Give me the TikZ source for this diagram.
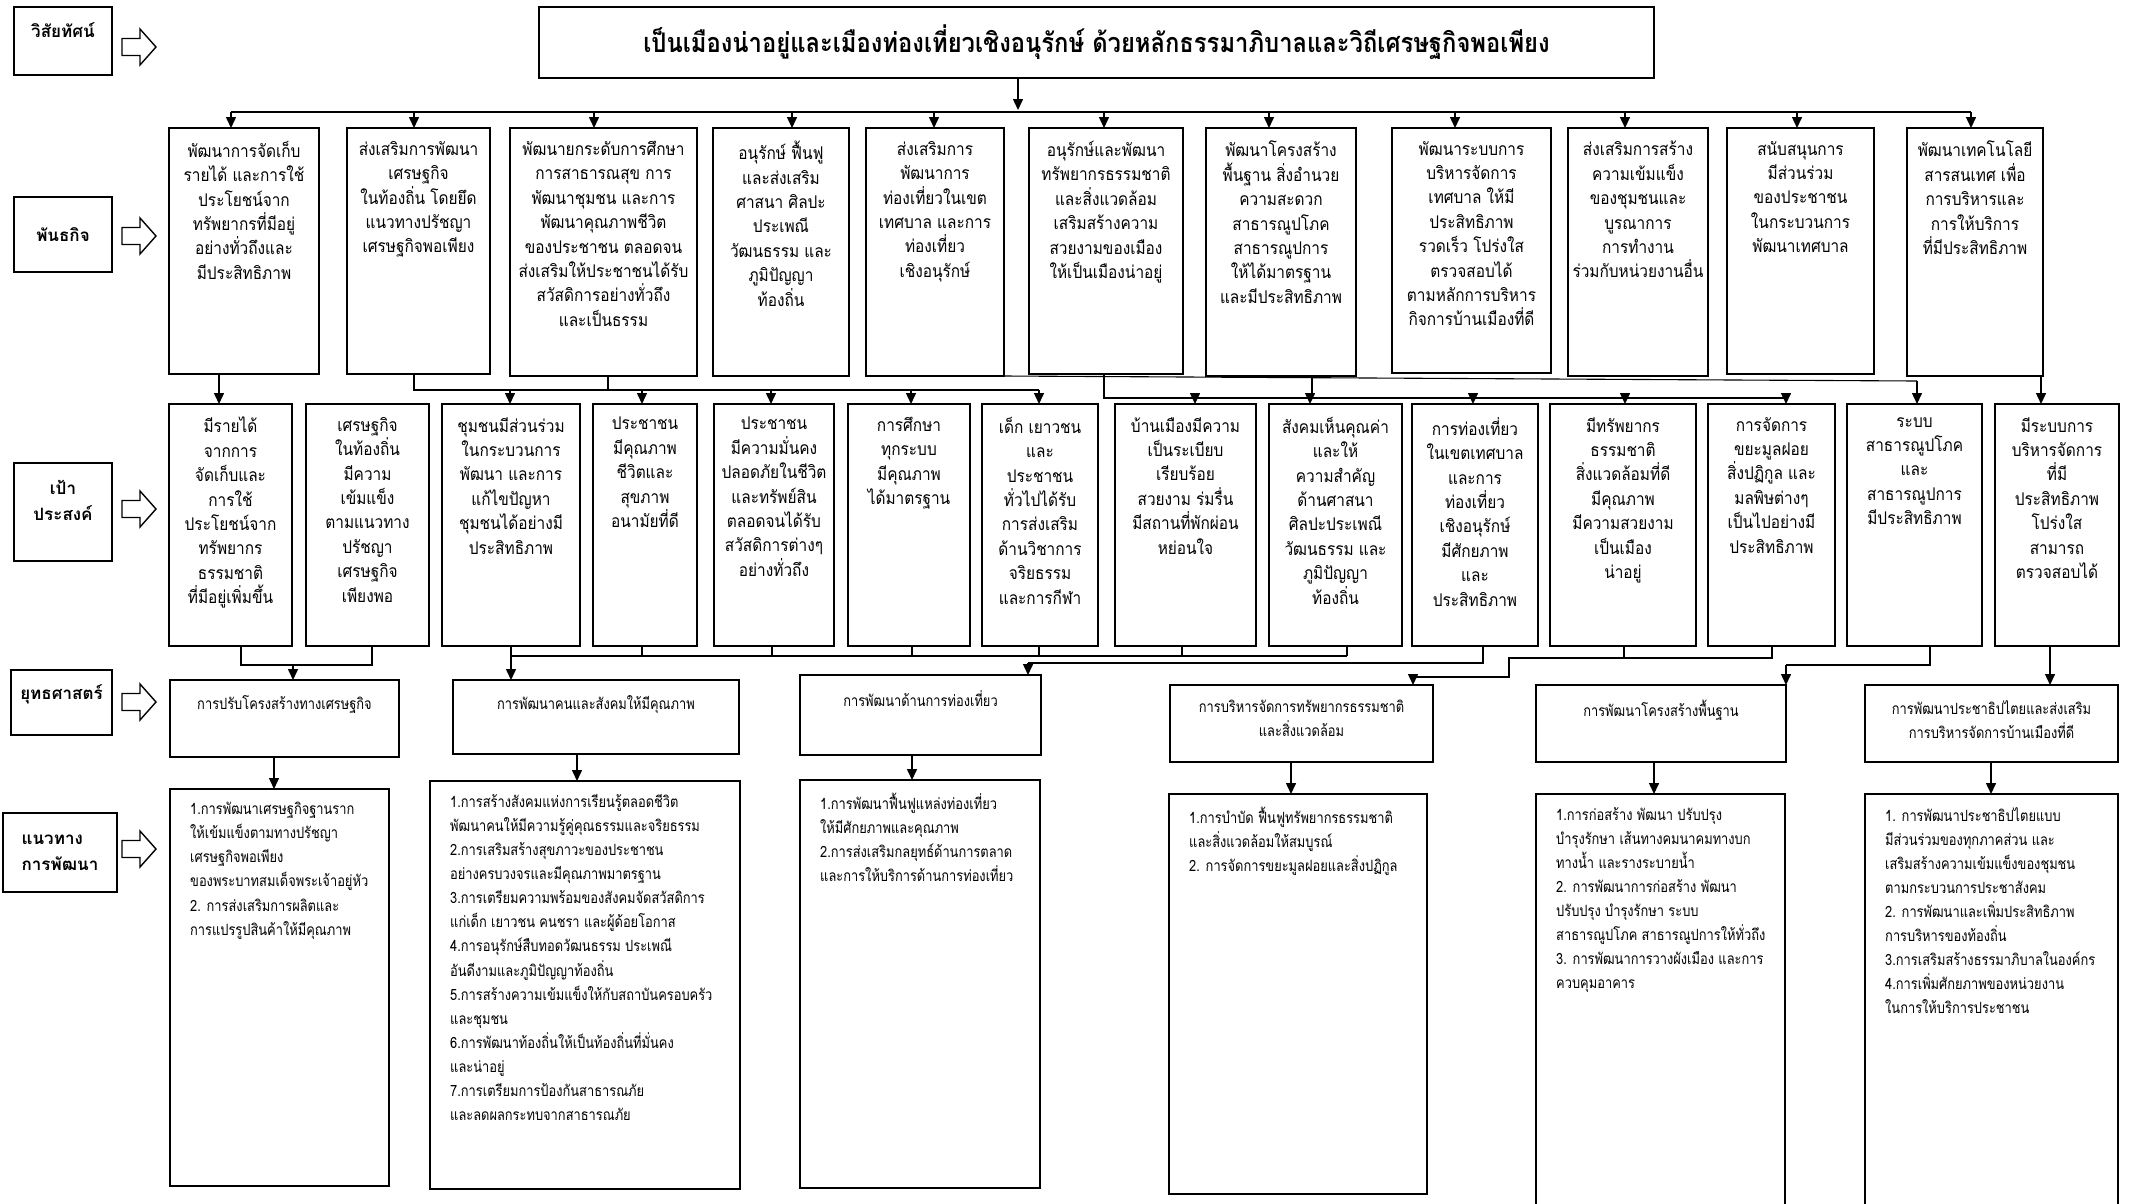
\documentclass[tikz,border=0pt]{standalone}
\usepackage{fontspec}
\setmainfont[Script=Thai]{Loma}
\newfontfamily\thc[Script=Thai,FakeStretch=0.88]{Loma}
\newfontfamily\thg[Script=Thai,FakeStretch=0.83]{Loma}
\usetikzlibrary{arrows.meta,calc}
\newcommand\cbox[7][]{\node[bx,minimum width={#5-#3},minimum height={#6-#4},anchor=north west] (#2) at (#3,#4) {};\node[tx,anchor=north,#1] (#2t) at ([yshift=-13pt]#2.north) {#7};}
\newcommand\lbox[7][]{\node[bx,minimum width={#5-#3},minimum height={#6-#4},anchor=north west] (#2) at (#3,#4) {};\node[gl,anchor=north west,#1] (#2t) at ([xshift=20pt,yshift=-13pt]#2.north west) {#7};}
\newcommand\labbox[7][]{\node[bx,minimum width={#5-#3},minimum height={#6-#4},anchor=north west] (#2) at (#3,#4) {};\node[lb,#1] (#2t) at (#2.center) {#7};}
\newcommand\blkarrow[2]{\draw[blk] (#1,#2) ++(0,-8.5) -- ++(18,0) -- ++(0,-9.5) -- ++(16,18) -- ++(-16,18) -- ++(0,-9.5) -- ++(-18,0) -- cycle;}
\begin{document}
\begin{tikzpicture}[x=1pt,y=-1pt,
 bx/.style={draw,line width=1.8pt,inner sep=0pt,outer sep=0pt,fill=white},
 tx/.style={align=center,font=\thc\fontsize{17.5}{24.4}\selectfont,inner sep=0pt},
 st/.style={align=center,font=\thg\fontsize{15.5}{24}\selectfont,inner sep=0pt},
 gl/.style={align=left,font=\thg\fontsize{15.5}{24.1}\selectfont,inner sep=0pt},
 lb/.style={align=center,font=\fontsize{17}{26}\selectfont\bfseries,inner sep=0pt},
 ln/.style={line width=1.5pt},
 arr/.style={line width=1.5pt,-{Triangle[length=11pt,width=10pt]}},
 blk/.style={line width=1.4pt,fill=white}]
\fill[white] (0,0) rectangle (2134,1203);
\useasboundingbox (0,0) rectangle (2134,1203);

% left labels
\labbox[yshift=11pt]{Lvis}{14}{7}{112}{75}{วิสัยทัศน์}
\labbox{Lmis}{14}{197}{112}{272}{พันธกิจ}
\labbox[yshift=12pt]{Lgoal}{14}{463}{112}{561}{เป้า\\ประสงค์}
\labbox[yshift=8pt]{Lstr}{11}{670}{112}{735}{ยุทธศาสตร์}
\labbox[align=left]{Ldev}{3}{813}{117}{892}{แนวทาง\\การพัฒนา}
\blkarrow{122}{47}
\blkarrow{122}{236}
\blkarrow{122}{509}
\blkarrow{122}{702}
\blkarrow{122}{849}

% title
\node[bx,minimum width=1115,minimum height=71,anchor=north west] (T) at (539,7) {};
\node[inner sep=0pt,font=\thc\fontsize{27}{32}\selectfont\bfseries] (Tt) at (T.center) {เป็นเมืองน่าอยู่และเมืองท่องเที่ยวเชิงอนุรักษ์ ด้วยหลักธรรมาภิบาลและวิถีเศรษฐกิจพอเพียง};

% missions
\cbox{M1}{169}{128}{319}{374}{พัฒนาการจัดเก็บ\\รายได้ และการใช้\\ประโยชน์จาก\\ทรัพยากรที่มีอยู่\\อย่างทั่วถึงและ\\มีประสิทธิภาพ}
\cbox{M2}{347}{128}{490}{374}{ส่งเสริมการพัฒนา\\เศรษฐกิจ\\ในท้องถิ่น โดยยึด\\แนวทางปรัชญา\\เศรษฐกิจพอเพียง}
\cbox{M3}{510}{128}{697}{376}{พัฒนายกระดับการศึกษา\\การสาธารณสุข การ\\พัฒนาชุมชน และการ\\พัฒนาคุณภาพชีวิต\\ของประชาชน ตลอดจน\\ส่งเสริมให้ประชาชนได้รับ\\สวัสดิการอย่างทั่วถึง\\และเป็นธรรม}
\cbox{M4}{713}{128}{849}{376}{อนุรักษ์ ฟื้นฟู\\และส่งเสริม\\ศาสนา ศิลปะ\\ประเพณี\\วัฒนธรรม และ\\ภูมิปัญญา\\ท้องถิ่น}
\cbox{M5}{866}{128}{1004}{376}{ส่งเสริมการ\\พัฒนาการ\\ท่องเที่ยวในเขต\\เทศบาล และการ\\ท่องเที่ยว\\เชิงอนุรักษ์}
\cbox{M6}{1029}{128}{1183}{374}{อนุรักษ์และพัฒนา\\ทรัพยากรธรรมชาติ\\และสิ่งแวดล้อม\\เสริมสร้างความ\\สวยงามของเมือง\\ให้เป็นเมืองน่าอยู่}
\cbox{M7}{1206}{128}{1356}{376}{พัฒนาโครงสร้าง\\พื้นฐาน สิ่งอำนวย\\ความสะดวก\\สาธารณูปโภค\\สาธารณูปการ\\ให้ได้มาตรฐาน\\และมีประสิทธิภาพ}
\cbox{M8}{1392}{128}{1551}{373}{พัฒนาระบบการ\\บริหารจัดการ\\เทศบาล ให้มี\\ประสิทธิภาพ\\รวดเร็ว โปร่งใส\\ตรวจสอบได้\\ตามหลักการบริหาร\\กิจการบ้านเมืองที่ดี}
\cbox{M9}{1568}{128}{1708}{376}{ส่งเสริมการสร้าง\\ความเข้มแข็ง\\ของชุมชนและ\\บูรณาการ\\การทำงาน\\ร่วมกับหน่วยงานอื่น}
\cbox{M10}{1727}{128}{1874}{374}{สนับสนุนการ\\มีส่วนร่วม\\ของประชาชน\\ในกระบวนการ\\พัฒนาเทศบาล}
\cbox{M11}{1907}{128}{2043}{376}{พัฒนาเทคโนโลยี\\สารสนเทศ เพื่อ\\การบริหารและ\\การให้บริการ\\ที่มีประสิทธิภาพ}

% goals
\cbox{G1}{169}{404}{292}{646}{มีรายได้\\จากการ\\จัดเก็บและ\\การใช้\\ประโยชน์จาก\\ทรัพยากร\\ธรรมชาติ\\ที่มีอยู่เพิ่มขึ้น}
\cbox{G2}{306}{404}{429}{646}{เศรษฐกิจ\\ในท้องถิ่น\\มีความ\\เข้มแข็ง\\ตามแนวทาง\\ปรัชญา\\เศรษฐกิจ\\เพียงพอ}
\cbox{G3}{442}{404}{580}{646}{ชุมชนมีส่วนร่วม\\ในกระบวนการ\\พัฒนา และการ\\แก้ไขปัญหา\\ชุมชนได้อย่างมี\\ประสิทธิภาพ}
\cbox{G4}{593}{404}{697}{646}{ประชาชน\\มีคุณภาพ\\ชีวิตและ\\สุขภาพ\\อนามัยที่ดี}
\cbox{G5}{714}{404}{834}{646}{ประชาชน\\มีความมั่นคง\\ปลอดภัยในชีวิต\\และทรัพย์สิน\\ตลอดจนได้รับ\\สวัสดิการต่างๆ\\อย่างทั่วถึง}
\cbox{G6}{848}{404}{970}{646}{การศึกษา\\ทุกระบบ\\มีคุณภาพ\\ได้มาตรฐาน}
\cbox{G7}{982}{404}{1098}{646}{เด็ก เยาวชน\\และ\\ประชาชน\\ทั่วไปได้รับ\\การส่งเสริม\\ด้านวิชาการ\\จริยธรรม\\และการกีฬา}
\cbox{G8}{1115}{404}{1256}{646}{บ้านเมืองมีความ\\เป็นระเบียบ\\เรียบร้อย\\สวยงาม ร่มรื่น\\มีสถานที่พักผ่อน\\หย่อนใจ}
\cbox{G9}{1269}{404}{1402}{646}{สังคมเห็นคุณค่า\\และให้\\ความสำคัญ\\ด้านศาสนา\\ศิลปะประเพณี\\วัฒนธรรม และ\\ภูมิปัญญา\\ท้องถิ่น}
\cbox{G10}{1412}{404}{1538}{646}{การท่องเที่ยว\\ในเขตเทศบาล\\และการ\\ท่องเที่ยว\\เชิงอนุรักษ์\\มีศักยภาพ\\และ\\ประสิทธิภาพ}
\cbox{G11}{1550}{404}{1696}{646}{มีทรัพยากร\\ธรรมชาติ\\สิ่งแวดล้อมที่ดี\\มีคุณภาพ\\มีความสวยงาม\\เป็นเมือง\\น่าอยู่}
\cbox{G12}{1708}{404}{1835}{646}{การจัดการ\\ขยะมูลฝอย\\สิ่งปฏิกูล และ\\มลพิษต่างๆ\\เป็นไปอย่างมี\\ประสิทธิภาพ}
\cbox{G13}{1847}{404}{1982}{646}{ระบบ\\สาธารณูปโภค\\และ\\สาธารณูปการ\\มีประสิทธิภาพ}
\cbox{G14}{1995}{404}{2119}{646}{มีระบบการ\\บริหารจัดการ\\ที่มี\\ประสิทธิภาพ\\โปร่งใส\\สามารถ\\ตรวจสอบได้}

% strategies
\cbox[st,yshift=-2pt]{S1}{170}{680}{399}{757}{การปรับโครงสร้างทางเศรษฐกิจ}
\cbox[st,yshift=-2pt]{S2}{453}{680}{739}{754}{การพัฒนาคนและสังคมให้มีคุณภาพ}
\cbox[st,yshift=-2pt]{S3}{800}{675}{1041}{755}{การพัฒนาด้านการท่องเที่ยว}
\cbox[st,yshift=-2pt]{S4}{1170}{685}{1433}{762}{การบริหารจัดการทรัพยากรธรรมชาติ\\และสิ่งแวดล้อม}
\cbox[st,yshift=-2pt]{S5}{1536}{685}{1786}{762}{การพัฒนาโครงสร้างพื้นฐาน}
\cbox[st,yshift=-2pt]{S6}{1865}{685}{2118}{762}{การพัฒนาประชาธิปไตยและส่งเสริม\\การบริหารจัดการบ้านเมืองที่ดี}

% guidelines
\lbox{D1}{170}{789}{389}{1186}{1.การพัฒนาเศรษฐกิจฐานราก\\ให้เข้มแข็งตามทางปรัชญา\\เศรษฐกิจพอเพียง\\ของพระบาทสมเด็จพระเจ้าอยู่หัว\\2. การส่งเสริมการผลิตและ\\การแปรรูปสินค้าให้มีคุณภาพ}
\lbox{D2}{430}{781}{740}{1189}{1.การสร้างสังคมแห่งการเรียนรู้ตลอดชีวิต\\พัฒนาคนให้มีความรู้คู่คุณธรรมและจริยธรรม\\2.การเสริมสร้างสุขภาวะของประชาชน\\อย่างครบวงจรและมีคุณภาพมาตรฐาน\\3.การเตรียมความพร้อมของสังคมจัดสวัสดิการ\\แก่เด็ก เยาวชน คนชรา และผู้ด้อยโอกาส\\4.การอนุรักษ์สืบทอดวัฒนธรรม ประเพณี\\อันดีงามและภูมิปัญญาท้องถิ่น\\5.การสร้างความเข้มแข็งให้กับสถาบันครอบครัว\\และชุมชน\\6.การพัฒนาท้องถิ่นให้เป็นท้องถิ่นที่มั่นคง\\และน่าอยู่\\7.การเตรียมการป้องกันสาธารณภัย\\และลดผลกระทบจากสาธารณภัย}
\lbox{D3}{800}{780}{1040}{1188}{1.การพัฒนาฟื้นฟูแหล่งท่องเที่ยว\\ให้มีศักยภาพและคุณภาพ\\2.การส่งเสริมกลยุทธ์ด้านการตลาด\\และการให้บริการด้านการท่องเที่ยว}
\lbox{D4}{1169}{794}{1427}{1194}{1.การบำบัด ฟื้นฟูทรัพยากรธรรมชาติ\\และสิ่งแวดล้อมให้สมบูรณ์\\2. การจัดการขยะมูลฝอยและสิ่งปฏิกูล}
\lbox{D5}{1536}{794}{1785}{1215}{1.การก่อสร้าง พัฒนา ปรับปรุง\\บำรุงรักษา เส้นทางคมนาคมทางบก\\ทางน้ำ และรางระบายน้ำ\\2. การพัฒนาการก่อสร้าง พัฒนา\\ปรับปรุง บำรุงรักษา ระบบ\\สาธารณูปโภค สาธารณูปการให้ทั่วถึง\\3. การพัฒนาการวางผังเมือง และการ\\ควบคุมอาคาร}
\lbox{D6}{1865}{794}{2118}{1215}{1. การพัฒนาประชาธิปไตยแบบ\\มีส่วนร่วมของทุกภาคส่วน และ\\เสริมสร้างความเข้มแข็งของชุมชน\\ตามกระบวนการประชาสังคม\\2. การพัฒนาและเพิ่มประสิทธิภาพ\\การบริหารของท้องถิ่น\\3.การเสริมสร้างธรรมาภิบาลในองค์กร\\4.การเพิ่มศักยภาพของหน่วยงาน\\ในการให้บริการประชาชน}

% title -> missions
\coordinate (tarr) at (1018,110);
\draw[arr] (tarr |- T.south) -- (tarr);
\coordinate (busL) at (231,112);
\coordinate (busR) at (1971,112);
\draw[ln] (busL) -- (busR);
\foreach \n/\x in {M1/231,M2/414,M3/594,M4/792,M5/934,M6/1104,M7/1269,M8/1455,M9/1625,M10/1797,M11/1971}{
  \coordinate (d\n) at (\x,112);
  \draw[arr] (d\n) -- (d\n |- \n.north);}

% missions -> goals
\coordinate (r1) at (219,390);
\draw[arr] (r1 |- M1.south) -- (r1 |- G1.north);
\coordinate (r2) at (414,390);
\coordinate (r3) at (608,390);
\draw[ln] (r2 |- M2.south) -- (r2) -- (1039,390);
\draw[ln] (r3 |- M3.south) -- (r3);
\foreach \n/\x in {G3/510,G4/642,G5/771,G6/911,G7/1039}{
  \coordinate (u\n) at (\x,390);
  \draw[arr] (u\n) -- (u\n |- \n.north);}
\coordinate (r6) at (1104,398);
\draw[ln] (r6 |- M6.south) -- (r6) -- (1786,398);
\coordinate (r7) at (1312,398);
\draw[ln] (r7 |- M7.south) -- (r7);
\foreach \n/\x in {G8/1195,G9/1310,G10/1473,G11/1625,G12/1786}{
  \coordinate (u\n) at (\x,398);
  \draw[arr] (u\n) -- (u\n |- \n.north);}
\coordinate (r13) at (1917,381);
\draw[line width=1.1pt] (M5.south east) -- (r13);
\draw[arr] (r13) -- (r13 |- G13.north);
\coordinate (r14) at (2041,390);
\draw[arr] (r14 |- M11.south) -- (r14 |- G14.north);

% goals -> strategies
\coordinate (g1b) at (241,665);
\coordinate (g2b) at (372,665);
\draw[ln] (g1b |- G1.south) -- (g1b) -- (g2b) -- (g2b |- G2.south);
\coordinate (s1a) at (293,665);
\draw[arr] (s1a) -- (s1a |- S1.north);
\draw[ln] (511,656) -- (1347,656);
\foreach \n/\x in {G3/511,G4/642,G5/772,G6/912,G7/1039,G8/1182,G9/1347}{
  \coordinate (v\n) at (\x,656);
  \draw[ln] (v\n |- \n.south) -- (v\n);}
\draw[arr] (vG3) -- (vG3 |- S2.north);
\coordinate (g10b) at (1483,663);
\coordinate (s3a) at (1028,663);
\draw[ln] (g10b |- G10.south) -- (g10b) -- (s3a);
\draw[arr] (s3a) -- (s3a |- S3.north);
\coordinate (g11b) at (1624,658);
\coordinate (g12b) at (1772,658);
\coordinate (j4) at (1509,658);
\coordinate (s4a) at (1413,677);
\draw[ln] (g11b |- G11.south) -- (g11b);
\draw[ln] (g12b |- G12.south) -- (g12b) -- (j4) -- (j4 |- s4a) -- (s4a);
\draw[arr] (s4a) -- (s4a |- S4.north);
\coordinate (g13b) at (1930,665);
\coordinate (s5a) at (1786,665);
\draw[ln] (g13b |- G13.south) -- (g13b) -- (s5a);
\draw[arr] (s5a) -- (s5a |- S5.north);
\coordinate (g14b) at (2050,665);
\draw[arr] (g14b |- G14.south) -- (g14b |- S6.north);

% strategies -> guidelines
\foreach \n/\m/\x in {S1/D1/274,S2/D2/577,S3/D3/912,S4/D4/1291,S5/D5/1654,S6/D6/1991}{
  \coordinate (w\n) at (\x,770);
  \draw[arr] (w\n |- \n.south) -- (w\n |- \m.north);}
\end{tikzpicture}
\end{document}
